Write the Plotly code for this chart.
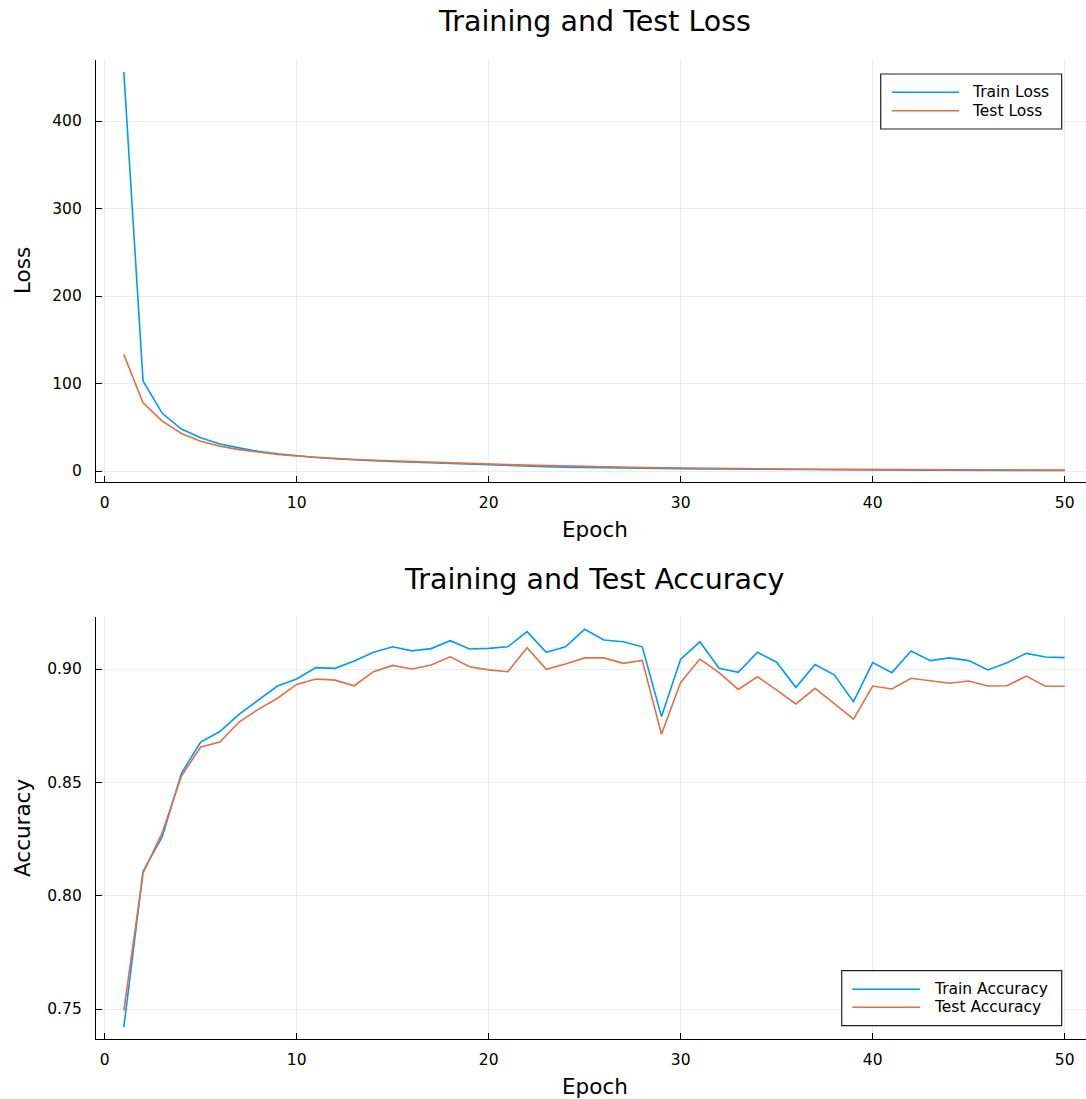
import plotly.graph_objects as go

epochs = list(range(1, 51))

train_loss = [456, 103, 66, 48, 38, 31, 26.5, 22.5, 19.8, 17.5,
              15.5, 14, 12.7, 11.9, 11, 10.2, 9.4, 8.5, 7.6, 6.6,
              6.0, 5.4, 4.9, 4.5, 4.1, 3.7, 3.4, 3.1, 2.9, 2.7,
              2.5, 2.3, 2.1, 1.9, 1.7, 1.6, 1.5, 1.4, 1.3, 1.2,
              1.1, 1.05, 1.0, 0.95, 0.9, 0.85, 0.8, 0.75, 0.7, 0.65]
test_loss = [133, 78, 57, 43, 34, 28.5, 24.5, 21.5, 19, 17.2,
             15.6, 14.3, 13.2, 12.3, 11.5, 10.7, 10, 9.3, 8.6, 8,
             7.4, 6.8, 6.2, 5.7, 5.2, 4.8, 4.4, 4.0, 3.7, 3.4,
             3.1, 2.9, 2.7, 2.5, 2.3, 2.1, 2.0, 1.9, 1.8, 1.7,
             1.6, 1.5, 1.45, 1.4, 1.35, 1.3, 1.25, 1.2, 1.15, 1.1]

train_acc = [0.742, 0.8107, 0.826, 0.854, 0.8678, 0.8724, 0.880, 0.8863, 0.8925, 0.8956,
             0.9006, 0.9003, 0.9035, 0.9074, 0.9098, 0.908, 0.909, 0.9125, 0.9088, 0.9091,
             0.9098, 0.9165, 0.9074, 0.9098, 0.9175, 0.9128, 0.912, 0.9098, 0.879, 0.9043,
             0.912, 0.9003, 0.8985, 0.9074, 0.903, 0.8919, 0.902, 0.8974, 0.8856, 0.9028,
             0.8984, 0.9079, 0.9037, 0.9049, 0.9037, 0.8996, 0.9028, 0.9069, 0.9053, 0.905]
test_acc = [0.7493, 0.810, 0.8278, 0.8528, 0.8656, 0.8678, 0.8766, 0.8822, 0.8871, 0.8932,
            0.8956, 0.8951, 0.8926, 0.8988, 0.9016, 0.900, 0.9018, 0.9054, 0.901, 0.8996,
            0.8988, 0.9094, 0.8999, 0.9022, 0.9049, 0.9049, 0.9025, 0.9038, 0.8712, 0.8941,
            0.9044, 0.8984, 0.891, 0.8966, 0.8907, 0.8846, 0.8915, 0.8846, 0.8779, 0.8925,
            0.8912, 0.8959, 0.8948, 0.8937, 0.8947, 0.8925, 0.8926, 0.8969, 0.8924, 0.8924]

x_ticks = [0, 10, 20, 30, 40, 50]
loss_ticks = [0, 100, 200, 300, 400]
acc_ticks = [0.75, 0.80, 0.85, 0.90]

BLUE = "#009AFA"
ORANGE = "#E36F47"
FONT = "DejaVu Sans"
W, H = 1086, 1099
GRID = "rgba(0,0,0,0.075)"

def px(p):
    return p / W

def py(p):
    return (H - p) / H

fig = go.Figure()
fig.add_trace(go.Scatter(x=epochs, y=train_loss, mode="lines", name="Train Loss",
                         line=dict(color=BLUE, width=1.6), xaxis="x", yaxis="y"))
fig.add_trace(go.Scatter(x=epochs, y=test_loss, mode="lines", name="Test Loss",
                         line=dict(color=ORANGE, width=1.6), xaxis="x", yaxis="y"))
fig.add_trace(go.Scatter(x=epochs, y=train_acc, mode="lines", name="Train Accuracy",
                         line=dict(color=BLUE, width=1.6), xaxis="x2", yaxis="y2"))
fig.add_trace(go.Scatter(x=epochs, y=test_acc, mode="lines", name="Test Accuracy",
                         line=dict(color=ORANGE, width=1.6), xaxis="x2", yaxis="y2"))

xdom = [96 / W, 1.0]
common_x = dict(range=[-0.45, 51.11], tickvals=x_ticks, showgrid=True,
                gridcolor=GRID, gridwidth=1, zeroline=False,
                showline=True, linecolor="black", linewidth=1.3,
                ticks="inside", ticklen=6, tickcolor="black", tickwidth=1,
                ticklabelstandoff=6,
                tickfont=dict(family=FONT, size=15.5, color="black"), domain=xdom)
common_y = dict(showgrid=True, gridcolor=GRID, gridwidth=1, zeroline=False,
                showline=True, linecolor="black", linewidth=1.3,
                ticks="inside", ticklen=6, tickcolor="black", tickwidth=1,
                ticklabelstandoff=10,
                tickfont=dict(family=FONT, size=15.5, color="black"))

fig.update_layout(
    width=W, height=H,
    margin=dict(l=0, r=0, t=0, b=0),
    paper_bgcolor="white", plot_bgcolor="white",
    font=dict(family=FONT, color="black"),
    showlegend=False,
    xaxis=dict(common_x, anchor="y"),
    yaxis=dict(common_y, range=[-12.5, 469.7], tickvals=loss_ticks,
               domain=[py(482), py(60)], anchor="x"),
    xaxis2=dict(common_x, anchor="y2"),
    yaxis2=dict(common_y, range=[0.73677, 0.92294], tickvals=acc_ticks, tickformat=".2f",
                domain=[py(1039), py(617)], anchor="x2"),
)

ann = [
    dict(text="Training and Test Loss", x=(96 + 1093) / 2 / W, y=py(22), size=28.5),
    dict(text="Training and Test Accuracy", x=(96 + 1093) / 2 / W, y=py(579), size=28.5),
    dict(text="Epoch", x=(96 + 1093) / 2 / W, y=py(529), size=21.5),
    dict(text="Epoch", x=(96 + 1093) / 2 / W, y=py(1086), size=21.5),
]
for a in ann:
    fig.add_annotation(text=a["text"], x=a["x"], y=a["y"], xref="paper", yref="paper",
                       xanchor="center", yanchor="middle", showarrow=False,
                       font=dict(family=FONT, size=a["size"], color="black"))
for txt, yc in [("Loss", (60 + 482) / 2), ("Accuracy", (617 + 1039) / 2)]:
    fig.add_annotation(text=txt, x=22 / W, y=py(yc), xref="paper", yref="paper",
                       xanchor="center", yanchor="middle", showarrow=False, textangle=-90,
                       font=dict(family=FONT, size=21.5, color="black"))

# Legends (drawn as boxes with sample lines and labels)
legends = [
    dict(box=(880.7, 74, 1061.7, 129), line_x=(892, 959), text_x=970,
         items=[("Train Loss", BLUE, 92.3), ("Test Loss", ORANGE, 110.7)]),
    dict(box=(841.7, 970.7, 1061.7, 1025.7), line_x=(852.3, 920), text_x=931.7,
         items=[("Train Accuracy", BLUE, 989.3), ("Test Accuracy", ORANGE, 1007.3)]),
]
for lg in legends:
    x0, y0, x1, y1 = lg["box"]
    fig.add_shape(type="rect", xref="paper", yref="paper",
                  x0=px(x0), x1=px(x1), y0=py(y1), y1=py(y0),
                  line=dict(color="#222222", width=1.2), fillcolor="white", layer="above")
    for label, color, yy in lg["items"]:
        fig.add_shape(type="line", xref="paper", yref="paper",
                      x0=px(lg["line_x"][0]), x1=px(lg["line_x"][1]), y0=py(yy), y1=py(yy),
                      line=dict(color=color, width=1.6), layer="above")
        fig.add_annotation(text=label, x=px(lg["text_x"]), y=py(yy), xref="paper", yref="paper",
                           xanchor="left", yanchor="middle", showarrow=False,
                           font=dict(family=FONT, size=15.5, color="black"))

fig.write_html("out.html")
